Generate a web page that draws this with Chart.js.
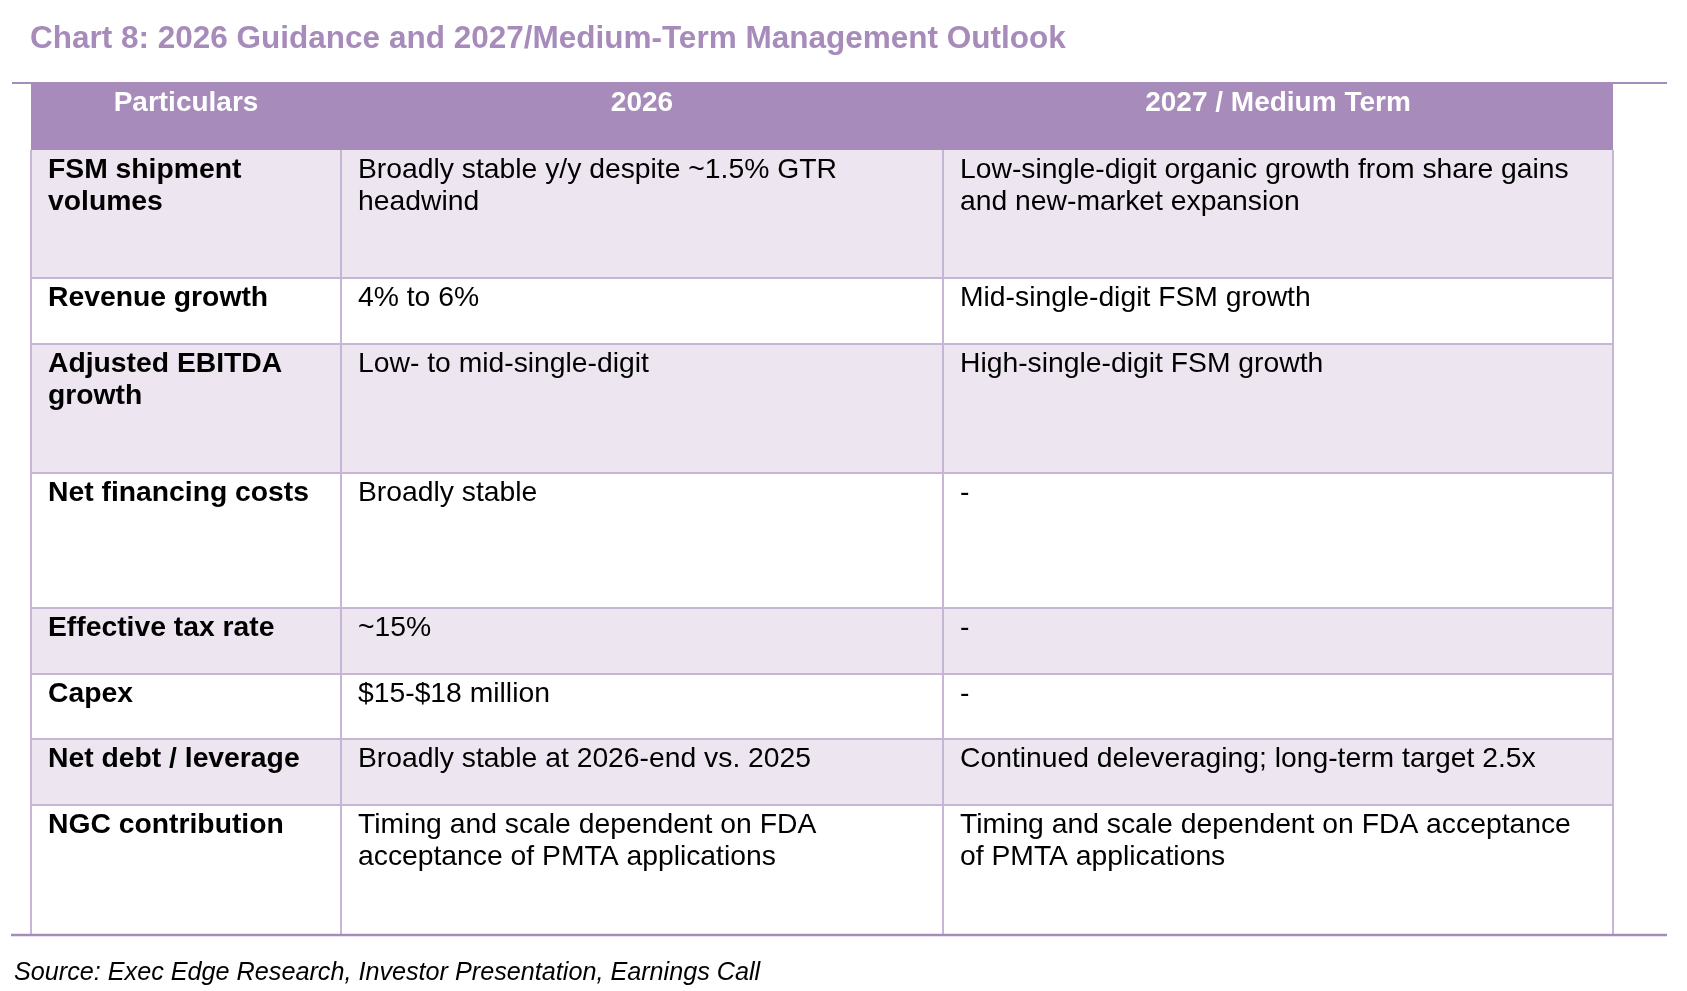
<!DOCTYPE html>
<html>
<head>
<meta charset="utf-8">
<script src="https://cdn.jsdelivr.net/npm/chart.js@4.4.1/dist/chart.umd.min.js"></script>
<style>
  html, body { margin: 0; padding: 0; background: #ffffff; }
  #wrap { position: relative; width: 1687px; height: 991px; }
  #tableChart { position: absolute; left: 0; top: 0; }
</style>
</head>
<body>
<div id="wrap">
  <canvas id="tableChart" width="1687" height="991"></canvas>
</div>
<script>
// table content
const chartTitle = 'Chart 8: 2026 Guidance and 2027/Medium-Term Management Outlook';
const sourceNote = 'Source: Exec Edge Research, Investor Presentation, Earnings Call';
const headers = ['Particulars', '2026', '2027 / Medium Term'];
const particulars = [
    'FSM shipment\nvolumes',
    'Revenue growth',
    'Adjusted EBITDA\ngrowth',
    'Net financing costs',
    'Effective tax rate',
    'Capex',
    'Net debt / leverage',
    'NGC contribution'
];
const guidance2026 = [
    'Broadly stable y/y despite ~1.5% GTR\nheadwind',
    '4% to 6%',
    'Low- to mid-single-digit',
    'Broadly stable',
    '~15%',
    '$15-$18 million',
    'Broadly stable at 2026-end vs. 2025',
    'Timing and scale dependent on FDA\nacceptance of PMTA applications'
];
const outlookMedium = [
    'Low-single-digit organic growth from share gains\nand new-market expansion',
    'Mid-single-digit FSM growth',
    'High-single-digit FSM growth',
    '-',
    '-',
    '-',
    'Continued deleveraging; long-term target 2.5x',
    'Timing and scale dependent on FDA acceptance\nof PMTA applications'
];

// layout (scale units)
const colWidths = [310, 602, 670];
const headerHeight = 68;
const rowHeights = [128, 66, 129, 135, 66, 65, 66, 130];

const purple = '#a78bba';
const lavender = '#ede6f1';
const gridColor = '#c7b5d6';
const fontFamily = '"Liberation Sans", Arial, Helvetica, sans-serif';

function cumulative(list, start) {
    const out = [start];
    list.forEach(v => out.push(out[out.length - 1] + v));
    return out;
}

const colEdges = cumulative(colWidths, 0);
const rowEdges = cumulative(rowHeights, headerHeight);
const totalWidth = colEdges[colEdges.length - 1];
const totalHeight = rowEdges[rowEdges.length - 1];

function drawLines(ctx, text, x, y, step, align) {
    ctx.textAlign = align;
    text.split('\n').forEach((line, i) => ctx.fillText(line, x, y + i * step));
}

const tablePlugin = {
    id: 'guidanceTable',
    afterDraw(chart) {
        const ctx = chart.ctx;
        const xs = chart.scales.x;
        const ys = chart.scales.y;
        const px = v => xs.getPixelForValue(v);
        const py = v => ys.getPixelForValue(v);
        const left = px(0), right = px(totalWidth);
        const top = py(0), bottom = py(totalHeight);

        ctx.save();
        ctx.textBaseline = 'alphabetic';

        // title
        ctx.fillStyle = purple;
        ctx.font = 'bold 31.5px ' + fontFamily;
        ctx.textAlign = 'left';
        ctx.fillText(chartTitle, left - 1, top - 34);

        // header band
        ctx.fillStyle = purple;
        ctx.fillRect(left, top, right - left, py(headerHeight) - top);

        // body row fills
        rowHeights.forEach((h, i) => {
            ctx.fillStyle = i % 2 === 0 ? lavender : '#ffffff';
            const y0 = py(rowEdges[i]);
            ctx.fillRect(left, y0, right - left, py(rowEdges[i + 1]) - y0);
        });

        // inner grid
        ctx.strokeStyle = gridColor;
        ctx.lineWidth = 2;
        ctx.beginPath();
        for (let i = 1; i < rowEdges.length - 1; i++) {
            const y = py(rowEdges[i]);
            ctx.moveTo(left, y);
            ctx.lineTo(right, y);
        }
        colEdges.forEach(c => {
            ctx.moveTo(px(c), py(headerHeight));
            ctx.lineTo(px(c), bottom);
        });
        ctx.stroke();

        // outer rules
        ctx.strokeStyle = purple;
        ctx.lineWidth = 2;
        ctx.beginPath();
        ctx.moveTo(left - 19, top + 1);
        ctx.lineTo(right + 54, top + 1);
        ctx.stroke();
        ctx.lineWidth = 2.5;
        ctx.beginPath();
        ctx.moveTo(left - 20, bottom);
        ctx.lineTo(right + 54, bottom);
        ctx.stroke();

        const pad = 17, firstBase = 28, lineStep = 31.5;

        // header text
        ctx.fillStyle = '#ffffff';
        ctx.font = 'bold 28px ' + fontFamily;
        headers.forEach((h, c) => {
            drawLines(ctx, h, (px(colEdges[c]) + px(colEdges[c + 1])) / 2, top + firstBase + 1, lineStep, 'center');
        });

        // body text
        ctx.fillStyle = '#000000';
        const columns = [particulars, guidance2026, outlookMedium];
        columns.forEach((col, c) => {
            ctx.font = (c === 0 ? 'bold ' : '') + '28.3px ' + fontFamily;
            col.forEach((txt, r) => {
                drawLines(ctx, txt, px(colEdges[c]) + pad, py(rowEdges[r]) + firstBase, lineStep, 'left');
            });
        });

        // source
        ctx.font = 'italic 25.2px ' + fontFamily;
        ctx.fillStyle = '#000000';
        ctx.textAlign = 'left';
        ctx.fillText(sourceNote, left - 17, bottom + 45);

        ctx.restore();
    }
};

new Chart(document.getElementById('tableChart'), {
    type: 'scatter',
    data: { datasets: [] },
    options: {
        responsive: false,
        animation: false,
        devicePixelRatio: 1,
        layout: { padding: { left: 31, right: 74, top: 82, bottom: 56 } },
        plugins: {
            legend: { display: false },
            tooltip: { enabled: false }
        },
        scales: {
            x: { type: 'linear', min: 0, max: totalWidth, display: false },
            y: { type: 'linear', min: 0, max: totalHeight, reverse: true, display: false }
        }
    },
    plugins: [tablePlugin]
});
</script>
</body>
</html>
